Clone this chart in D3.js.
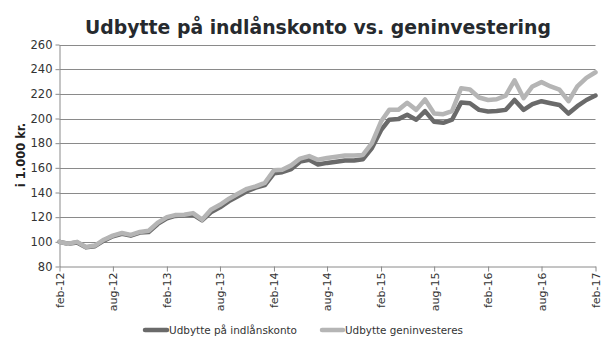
<!DOCTYPE html>
<html>
<head>
<meta charset="utf-8">
<script src="https://cdn.jsdelivr.net/npm/d3@7"></script>
<style>
  html, body { margin: 0; padding: 0; background: #fff; }
  svg { display: block; font-family: "DejaVu Sans", Verdana, sans-serif; }
</style>
</head>
<body>
<svg id="chart" width="608" height="350"></svg>
<script>
// Monthly balances, feb-12 .. feb-17 (in 1.000 kr.)
const startMonth = new Date(2012, 1, 1);
const interestAccount = [
  100, 98.5, 99.5, 95.5, 96.5, 101, 104.5, 106.5, 105, 107.5, 108, 114.5,
  119, 121, 121.5, 122, 117.5, 124, 128, 133, 137, 141, 144, 146,
  155.5, 156.5, 159, 165, 166.5, 162.7, 164, 165, 166, 166, 167, 176,
  190.5, 199, 199.5, 203, 199, 206, 197.3, 196.5, 199, 213, 212.4, 207,
  205.7, 206, 207, 215, 207, 211.6, 214, 212.4, 211, 204, 210, 215,
  218.6
];
const reinvested = [
  100, 98.5, 100, 95.8, 97, 101.7, 105, 107.2, 105.6, 108, 109, 115.6,
  120, 121.7, 122, 123.3, 118, 126, 130, 135, 139, 143, 145, 147.8,
  158, 158.4, 162, 167.5, 169.5, 166.5, 168, 169, 170, 170, 170.5, 180,
  197.5, 207, 207, 212.7, 207, 215.4, 204, 203.5, 206, 224.5, 223.5, 217,
  215, 215.6, 218.6, 231, 216.5, 226, 229.5, 226, 223.5, 214, 226, 233,
  237.5
];
const seriesNames = ["Udbytte på indlånskonto", "Udbytte geninvesteres"];
const seriesColors = ["#6a6a6a", "#b5b5b5"];
const xTickLabels = ["feb-12", "aug-12", "feb-13", "aug-13", "feb-14", "aug-14",
                     "feb-15", "aug-15", "feb-16", "aug-16", "feb-17"];
const yTicks = [80, 100, 120, 140, 160, 180, 200, 220, 240, 260];
const titleText = "Udbytte på indlånskonto vs. geninvestering";
const yLabel = "i 1.000 kr.";

const svg = d3.select("#chart");
const margin = { left: 59.5, right: 595.5, top: 44.5, bottom: 266.5 };

const months = interestAccount.map((_, i) => d3.timeMonth.offset(startMonth, i));
const x = d3.scaleTime()
  .domain([months[0], months[months.length - 1]])
  .range([margin.left, margin.right]);
const y = d3.scaleLinear().domain([80, 260]).range([margin.bottom, margin.top]);

const gridColor = "#8a8a8a";
const textColor = "#333";

// horizontal gridlines
svg.append("g")
  .selectAll("line")
  .data(yTicks.slice(1))
  .join("line")
  .attr("x1", margin.left).attr("x2", margin.right)
  .attr("y1", d => Math.round(y(d)) + 0.5).attr("y2", d => Math.round(y(d)) + 0.5)
  .attr("stroke", gridColor).attr("stroke-width", 1);

// y axis
const yAxis = svg.append("g")
  .attr("transform", `translate(${margin.left},0)`)
  .call(d3.axisLeft(y).tickValues(yTicks).tickSize(4).tickPadding(3).tickSizeOuter(0));
yAxis.select(".domain").attr("stroke", gridColor);
yAxis.selectAll(".tick line").attr("stroke", gridColor);
yAxis.selectAll(".tick text")
  .attr("font-size", "11.5px").attr("fill", textColor)
  .attr("font-family", "DejaVu Sans, Verdana, sans-serif");

// x axis, one tick every six months
const tickDates = xTickLabels.map((_, i) => d3.timeMonth.offset(startMonth, i * 6));
const xAxis = svg.append("g")
  .attr("transform", `translate(0,${margin.bottom})`)
  .call(d3.axisBottom(x).tickValues(tickDates)
    .tickFormat((d, i) => xTickLabels[i]).tickSize(5).tickSizeOuter(0));
xAxis.select(".domain").attr("stroke", gridColor);
xAxis.selectAll(".tick line").attr("stroke", gridColor);
xAxis.selectAll(".tick text")
  .attr("font-size", "11px").attr("fill", textColor)
  .attr("font-family", "DejaVu Sans, Verdana, sans-serif")
  .attr("transform", "rotate(-90)")
  .attr("text-anchor", "end")
  .attr("x", -6).attr("y", 0).attr("dy", "0.35em");

// lines
const line = d3.line()
  .x((d, i) => x(months[i]))
  .y(d => y(d));

[interestAccount, reinvested].forEach((data, k) => {
  svg.append("path")
    .datum(data)
    .attr("d", line)
    .attr("fill", "none")
    .attr("stroke", seriesColors[k])
    .attr("stroke-width", 4.5)
    .attr("stroke-linejoin", "round")
    .attr("stroke-linecap", "round");
});

// title, fitted to its span
const title = svg.append("text")
  .attr("x", 318).attr("y", 34)
  .attr("text-anchor", "middle")
  .attr("font-weight", "bold")
  .attr("font-size", "20px")
  .attr("fill", "#262a2e")
  .text(titleText);
const tw = title.node().getComputedTextLength();
title.attr("font-size", (20 * 466 / tw).toFixed(2) + "px");

// y axis label
svg.append("text")
  .attr("transform", "translate(25,155) rotate(-90)")
  .attr("text-anchor", "middle")
  .attr("font-weight", "bold")
  .attr("font-size", "11.5px")
  .attr("fill", "#222")
  .text(yLabel);

// legend
const legendItems = [
  { sx: 143, tx: 169, w: 128 },
  { sx: 320, tx: 345, w: 118 }
];
legendItems.forEach((it, k) => {
  svg.append("line")
    .attr("x1", it.sx + 2).attr("x2", it.tx - 2)
    .attr("y1", 330).attr("y2", 330)
    .attr("stroke", seriesColors[k]).attr("stroke-width", 4.5)
    .attr("stroke-linecap", "round");
  const t = svg.append("text")
    .attr("x", it.tx).attr("y", 330).attr("dy", "0.35em")
    .attr("font-size", "11px").attr("fill", textColor)
    .text(seriesNames[k]);
  const len = t.node().getComputedTextLength();
  t.attr("font-size", (11 * it.w / len).toFixed(2) + "px");
});
</script>
</body>
</html>
